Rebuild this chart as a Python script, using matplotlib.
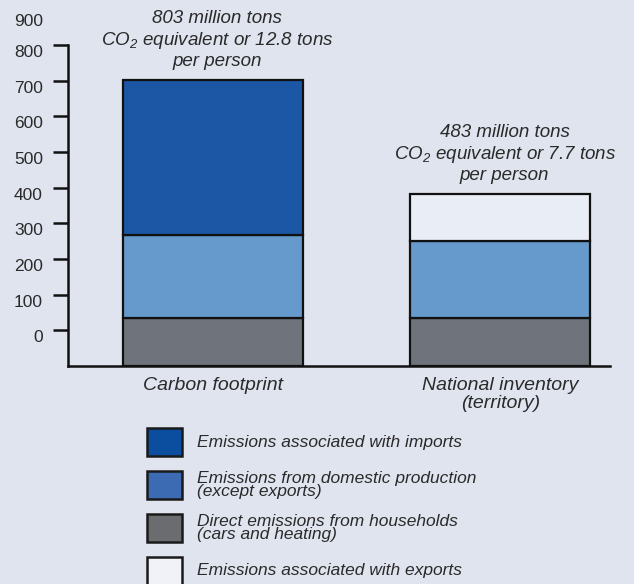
import numpy as np
import matplotlib.pyplot as plt
import matplotlib.transforms as mtransforms
from matplotlib.patches import Rectangle

plt.rcParams['font.family'] = ['Liberation Sans', 'DejaVu Sans']
plt.rcParams['mathtext.fontset'] = 'custom'
plt.rcParams['mathtext.rm'] = 'Liberation Sans:italic'
plt.rcParams['mathtext.it'] = 'Liberation Sans:italic'

categories = ["Carbon footprint", "National inventory\n(territory)"]
households = [135, 135]
domestic = [232, 215]
imports = [436, 0]
exports = [0, 133]
totals_text = ["803 million tons\nCO$_2$ equivalent or 12.8 tons\nper person",
               "483 million tons\nCO$_2$ equivalent or 7.7 tons\nper person"]

tick_pos = [100, 200, 300, 400, 500, 600, 700, 800, 900]
tick_labels = ["0", "100", "200", "300", "400", "500", "600", "700", "800"]

legend_labels = ["Emissions associated with imports",
                 "Emissions from domestic production\n(except exports)",
                 "Direct emissions from households\n(cars and heating)",
                 "Emissions associated with exports"]

bg = "#dfe4ef"
c_imp = "#1b57a5"
c_dom = "#6699cc"
c_hh = "#6f737b"
c_exp = "#e9edf5"
txt = "#2a2a2a"

fig = plt.figure(figsize=(6.34, 5.84), dpi=100, facecolor=bg)
ax = fig.add_axes([68 / 634, (584 - 366) / 584, (610 - 68) / 634, 321 / 584])
ax.set_facecolor(bg)

x = np.arange(len(categories))
w = 0.626
kw = dict(width=w, edgecolor="#111111", linewidth=1.6)
ax.bar(x, households, color=c_hh, **kw)
b1 = np.array(households)
ax.bar(x, domestic, bottom=b1, color=c_dom, **kw)
b2 = b1 + np.array(domestic)
for i in range(len(x)):
    if imports[i] > 0:
        ax.bar(x[i], imports[i], bottom=b2[i], color=c_imp, **kw)
    if exports[i] > 0:
        ax.bar(x[i], exports[i], bottom=b2[i], color=c_exp, **kw)
tops = b2 + np.array(imports) + np.array(exports)

for i in range(len(x)):
    ax.annotate(totals_text[i], (x[i], tops[i]), xytext=(3, 7), textcoords="offset points",
                ha="center", va="bottom", fontsize=13.5, style="italic", color=txt,
                linespacing=1.17, annotation_clip=False)

ax.set_xlim(-0.504, 1.381)
ax.set_ylim(0, 900)
for s in ["top", "right"]:
    ax.spines[s].set_visible(False)
for s in ["left", "bottom"]:
    ax.spines[s].set_linewidth(1.8)
    ax.spines[s].set_color("#111111")

ax.set_xticks(x)
ax.set_xticklabels(categories, style="italic", fontsize=14, color=txt, linespacing=1.05)
ax.tick_params(axis="x", length=0, pad=8)

ax.set_yticks(tick_pos)
ax.set_yticklabels(tick_labels, fontsize=12.5, color=txt)
ax.tick_params(axis="y", length=11, width=1.8, color="#111111", pad=7)
off = mtransforms.ScaledTranslation(0, -6 / 100, fig.dpi_scale_trans)
for lab in ax.get_yticklabels():
    lab.set_transform(lab.get_transform() + off)
ax.text(-0.046, 967, "900", transform=ax.get_yaxis_transform(), ha="right", va="center",
        fontsize=12.5, color=txt, clip_on=False)

# legend
leg_colors = ["#0b4e9f", "#3d6bb3", "#6b6c70", "#f0f2f7"]
row_y = [442, 485, 528, 571]
for lbl, col, yc in zip(legend_labels, leg_colors, row_y):
    fig.patches.append(Rectangle(((147) / 634, 1 - (yc + 14) / 584), 35 / 634, 28 / 584,
                                 transform=fig.transFigure, facecolor=col,
                                 edgecolor="#1a1a1a", linewidth=1.8))
    fig.text(197 / 634, 1 - yc / 584, lbl, ha="left", va="center", fontsize=12.5,
             style="italic", color=txt, linespacing=0.9)

fig.savefig("out.png", dpi=100, facecolor=bg)
